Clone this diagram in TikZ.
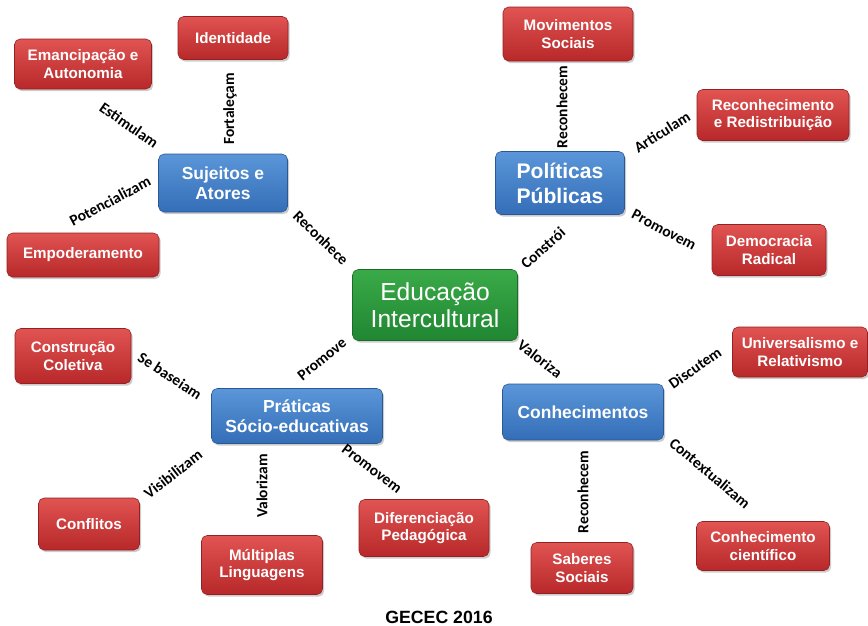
\documentclass[tikz,border=0pt]{standalone}
\usepackage{fontspec}
\setmainfont{Liberation Sans}
\newfontfamily\linkfont{Carlito}
\usetikzlibrary{shadows}

\definecolor{redtop}{RGB}{224,84,82}
\definecolor{redbot}{RGB}{184,40,42}
\definecolor{bluetop}{RGB}{90,150,216}
\definecolor{bluebot}{RGB}{52,110,184}
\definecolor{greentop}{RGB}{58,170,72}
\definecolor{greenbot}{RGB}{32,134,50}

\begin{document}
\begin{tikzpicture}[
  x=0.025cm, y=-0.025cm,
  concept/.style={rounded corners=4pt, align=center, text=white, inner sep=2pt,
    drop shadow={opacity=0.4, shadow xshift=1.2pt, shadow yshift=-1.5pt}},
  leaf/.style={concept, top color=redtop, bottom color=redbot, draw=redbot!80!black,
    font=\bfseries\fontsize{10.8}{12.5}\selectfont},
  hub/.style={concept, top color=bluetop, bottom color=bluebot, draw=bluebot!80!black,
    font=\bfseries\fontsize{12.4}{14.2}\selectfont},
  core/.style={concept, top color=greentop, bottom color=greenbot, draw=greenbot!80!black,
    font=\fontsize{17.5}{19}\selectfont},
  sz/.style 2 args={minimum width=#1*0.025cm, minimum height=#2*0.025cm},
  link/.style={font=\linkfont\bfseries\fontsize{11}{12}\selectfont, inner sep=1pt}
]
\useasboundingbox (0,0) rectangle (868,625);

% centre
\node[core, sz={165}{71}] (educacao) at (435,305) {Educação\\Intercultural};

% hubs
\node[hub, sz={129}{58}] (sujeitos) at (223,183) {Sujeitos e\\Atores};
\node[hub, sz={129}{63}, font=\bfseries\fontsize{15}{17.7}\selectfont] (politicas) at (560,183) {Políticas\\Públicas};
\node[hub, sz={171}{55}] (praticas) at (297,416) {Práticas\\Sócio-educativas};
\node[hub, sz={161}{56}] (conhecimentos) at (583,412) {Conhecimentos};

% leaves
\node[leaf, sz={110}{43}] (identidade) at (233,38) {Identidade};
\node[leaf, sz={137}{50}] (emancipacao) at (83,64) {Emancipação e\\Autonomia};
\node[leaf, sz={152}{44}] (empoderamento) at (83,255) {Empoderamento};
\node[leaf, sz={130}{54}] (movimentos) at (568,34) {Movimentos\\Sociais};
\node[leaf, sz={152}{51}] (reconhecimento) at (773,115) {Reconhecimento\\e Redistribuição};
\node[leaf, sz={114}{51}] (democracia) at (769,250) {Democracia\\Radical};
\node[leaf, sz={116}{55}] (construcao) at (73,356) {Construção\\Coletiva};
\node[leaf, sz={101}{52}] (conflitos) at (89,524) {Conflitos};
\node[leaf, sz={121}{59}] (multiplas) at (262,565) {Múltiplas\\Linguagens};
\node[leaf, sz={130}{57}] (diferenciacao) at (424,528) {Diferenciação\\Pedagógica};
\node[leaf, sz={135}{50}] (universalismo) at (800,352) {Universalismo e\\Relativismo};
\node[leaf, sz={102}{51}] (saberes) at (582,568) {Saberes\\Sociais};
\node[leaf, sz={133}{49}] (cientifico) at (763,546) {Conhecimento\\científico};

% link words
\node[link, rotate=90] (lFortalecam) at (230,109) {Fortaleçam};
\node[link, rotate=-35] (lEstimulam) at (129,125) {Estimulam};
\node[link, rotate=28] (lPotencializam) at (110,201) {Potencializam};
\node[link, rotate=-44] (lReconhece) at (321,238) {Reconhece};
\node[link, rotate=90] (lReconhecemA) at (562,107) {Reconhecem};
\node[link, rotate=32] (lArticulam) at (662,132) {Articulam};
\node[link, rotate=-28] (lPromovemA) at (664,230) {Promovem};
\node[link, rotate=42] (lConstroi) at (543,248) {Constrói};
\node[link, rotate=39] (lPromove) at (322,359) {Promove};
\node[link, rotate=-37] (lValoriza) at (540,359) {Valoriza};
\node[link, rotate=-33] (lSebaseiam) at (170,376) {Se baseiam};
\node[link, rotate=38] (lVisibilizam) at (173,474) {Visibilizam};
\node[link, rotate=90] (lValorizam) at (262,486) {Valorizam};
\node[link, rotate=-37] (lPromovemB) at (372,469) {Promovem};
\node[link, rotate=35] (lDiscutem) at (695,368) {Discutem};
\node[link, rotate=-40] (lContextualizam) at (710,473) {Contextualizam};
\node[link, rotate=90] (lReconhecemB) at (583,492) {Reconhecem};

\node[font=\bfseries\fontsize{12.6}{14}\selectfont] (credito) at (439,617) {GECEC 2016};

\end{tikzpicture}
\end{document}
